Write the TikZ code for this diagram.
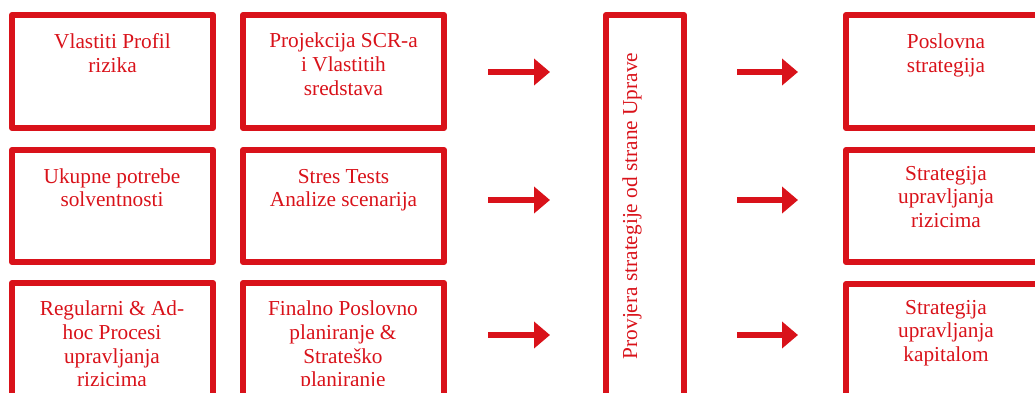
\documentclass[tikz,border=0pt]{standalone}
\usepackage{fontspec}
\setmainfont{Liberation Serif}
\usetikzlibrary{arrows.meta}
\definecolor{rd}{RGB}{217,18,26}
\begin{document}
\begin{tikzpicture}[x=1pt,y=-1pt,
  box/.style={draw=rd, line width=6pt, line join=round, rectangle, inner sep=0pt, outer sep=0pt},
  txt/.style={text=rd, align=center, inner sep=0pt, font=\fontsize{21.3pt}{23.8pt}\selectfont},
  arr/.style={draw=rd, line width=5.5pt, -{Triangle[length=16pt,width=26pt]}}]
\useasboundingbox (0,0) rectangle (1035,392);
\clip (0,0) rectangle (1035,392);
% column A
\node[box, minimum width=201pt, minimum height=113pt] (a1) at (112.5,71.5) {};
\node[box, minimum width=201pt, minimum height=112pt] (a2) at (112.5,206) {};
\node[box, minimum width=201pt, minimum height=140pt] (a3) at (112.5,353) {};
% column B
\node[box, minimum width=201pt, minimum height=113pt] (b1) at (343.5,71.5) {};
\node[box, minimum width=201pt, minimum height=112pt] (b2) at (343.5,206) {};
\node[box, minimum width=201pt, minimum height=140pt] (b3) at (343.5,353) {};
% central
\node[box, minimum width=78pt, minimum height=400pt] (c) at (645,215) {};
% right column
\node[box, minimum width=200pt, minimum height=113pt] (r1) at (946,71.5) {};
\node[box, minimum width=200pt, minimum height=112pt] (r2) at (946,206) {};
\node[box, minimum width=200pt, minimum height=140pt] (r3) at (946,354) {};
% texts (base anchor = baseline of the last line)
\node[txt, anchor=base] (ta1) at (112.5,72.3) {Vlastiti Profil\\rizika};
\node[txt, anchor=base] (tb1) at (343.5,95) {Projekcija SCR-a\\i Vlastitih\\sredstava};
\node[txt, anchor=base] (ta2) at (112,206.8) {Ukupne potrebe\\solventnosti};
\node[txt, anchor=base] (tb2) at (343.5,206.8) {Stres Tests\\Analize scenarija};
\begin{scope}
\clip (0,0) rectangle (1035,385);
\node[txt, anchor=base] (ta3) at (112,386.8) {Regularni \& Ad-\\hoc Procesi\\upravljanja\\rizicima};
\node[txt, anchor=base] (tb3) at (343,386.8) {Finalno Poslovno\\planiranje \&\\Strateško\\planiranje};
\end{scope}
\node[txt, anchor=base] (tr1) at (946,72) {Poslovna\\strategija};
\node[txt, anchor=base] (tr2) at (946,227.6) {Strategija\\upravljanja\\rizicima};
\node[txt, anchor=base] (tr3) at (946,361.6) {Strategija\\upravljanja\\kapitalom};
\node[txt, rotate=90, anchor=base] (tc) at (637,206) {Provjera strategije od strane Uprave};
% arrow end points
\coordinate (l1s) at (488,72);  \coordinate (l1e) at (550,72);
\coordinate (l2s) at (488,200); \coordinate (l2e) at (550,200);
\coordinate (l3s) at (488,335); \coordinate (l3e) at (550,335);
\coordinate (r1s) at (737,72);  \coordinate (r1e) at (798,72);
\coordinate (r2s) at (737,200); \coordinate (r2e) at (798,200);
\coordinate (r3s) at (737,335); \coordinate (r3e) at (798,335);
\draw[arr] (l1s) -- (l1e);
\draw[arr] (l2s) -- (l2e);
\draw[arr] (l3s) -- (l3e);
\draw[arr] (r1s) -- (r1e);
\draw[arr] (r2s) -- (r2e);
\draw[arr] (r3s) -- (r3e);
\end{tikzpicture}
\end{document}
